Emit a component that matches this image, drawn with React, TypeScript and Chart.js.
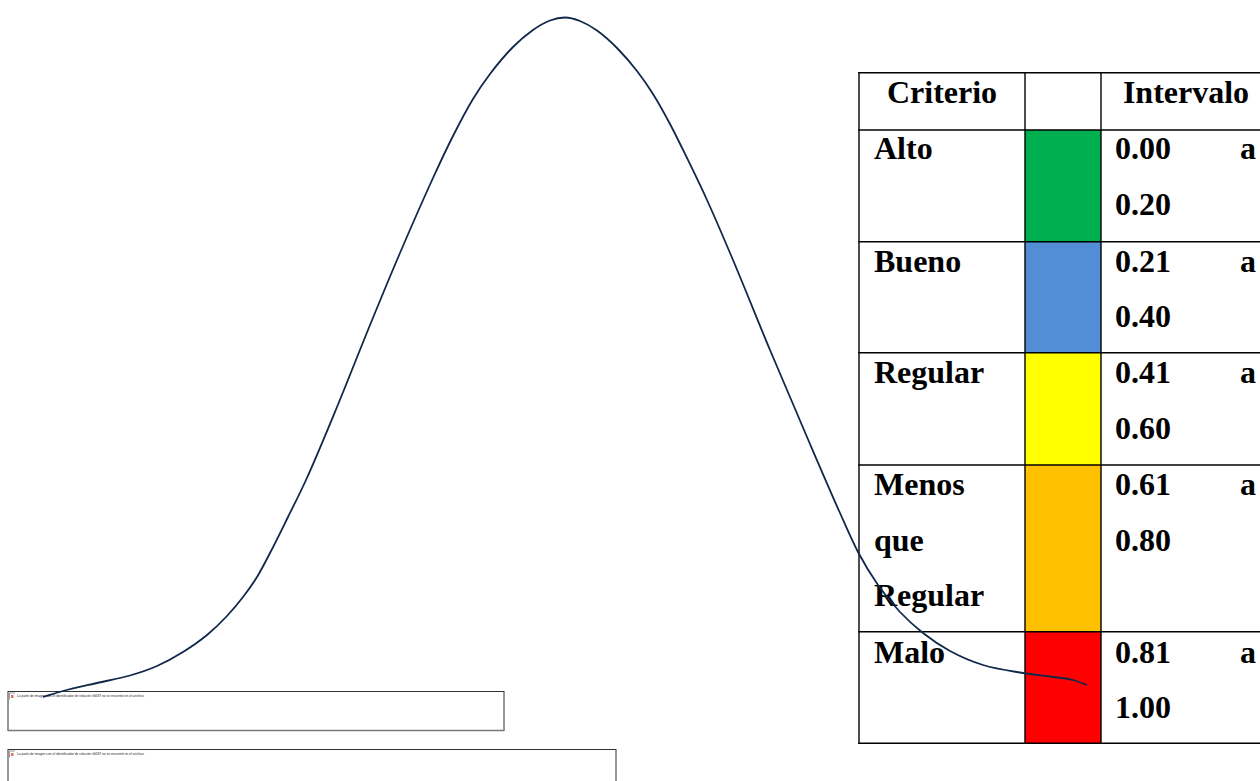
import React, { useEffect, useRef } from "react";
import { Chart, registerables } from "chart.js";

Chart.register(...registerables);

// Curve (x position across the page, height above the page's foot)
const curveX = [43, 63, 97, 130, 157, 183, 207, 227, 243, 257, 270, 288, 306, 337, 368, 397, 433, 453, 473, 490, 513, 533, 550, 565, 580, 597, 617, 637, 653, 670, 687, 707, 733, 770, 807, 840, 858, 878, 900, 923, 950, 983, 1023, 1053, 1073, 1087];
const curveY = [84, 90, 98, 105.5, 115, 129, 146, 165, 184, 204, 228, 264, 301, 374, 451, 521, 603, 645, 682, 707, 734, 751, 760.5, 763.5, 760, 750.5, 733, 710, 687, 657, 623, 581, 521, 431, 344, 268, 229, 196, 169, 148, 130, 116, 108, 104, 101, 96];

// Table contents
const criterioHeader = "Criterio";
const intervaloHeader = "Intervalo";
const criterios = [["Alto"], ["Bueno"], ["Regular"], ["Menos", "que", "Regular"], ["Malo"]];
const desde = ["0.00", "0.21", "0.41", "0.61", "0.81"];
const hasta = ["0.20", "0.40", "0.60", "0.80", "1.00"];
const colores = ["#00AF50", "#538DD5", "#FFFF00", "#FFC000", "#FF0000"];
const placeholderText = "La parte de imagen con el identificador de relación rId187 no se encontró en el archivo.";

// Layout of the page
const rowLines = [72.7, 130, 241.7, 352.8, 465, 631.7, 743.3];
const firstBaselines = [159, 271.5, 383, 495, 662.5];
const LINE = 55.5;
const colLines = [859, 1025, 1101];
const TABLE_RIGHT = 1271;
const placeholders = [
  { top: 691.5, height: 39, width: 496 },
  { top: 749.5, height: 60, width: 608 },
];

const serif: React.CSSProperties = {
  position: "absolute",
  fontFamily: '"Liberation Serif", serif',
  fontWeight: 700,
  fontSize: 32,
  lineHeight: "56px",
  height: 56,
  color: "#000",
  whiteSpace: "nowrap",
};

const at = (baseline: number): number => baseline - 39;

export default function App() {
  const ref = useRef<HTMLCanvasElement | null>(null);
  useEffect(() => {
    document.body.style.margin = "0";
    const chart = new Chart(ref.current!, {
      type: "line",
      data: {
        datasets: [
          {
            data: curveX.map((x, i) => ({ x, y: curveY[i] })),
            borderColor: "#10294A",
            borderWidth: 1.8,
            pointRadius: 0,
            cubicInterpolationMode: "monotone",
            fill: false,
          },
        ],
      },
      options: {
        animation: false,
        responsive: false,
        layout: { padding: 0 },
        plugins: { legend: { display: false }, tooltip: { enabled: false } },
        scales: {
          x: { type: "linear", min: 0, max: 1260, display: false },
          y: { type: "linear", min: 0, max: 781, display: false },
        },
      },
    });
    return () => chart.destroy();
  }, []);

  const W = 1.4;
  return (
    <div style={{ position: "relative", width: 1260, height: 781, overflow: "hidden", background: "#fff" }}>
      <svg width={1260} height={781} style={{ position: "absolute", left: 0, top: 0 }}>
        {placeholders.map((p, i) => (
          <g key={i}>
            <rect x={8} y={p.top} width={p.width} height={p.height} fill="none" stroke="#333" strokeWidth={1} />
            <line x1={8} x2={8 + p.width} y1={p.top + p.height} y2={p.top + p.height} stroke="#777" strokeWidth={1.6} />
            <path d={`M9.5 ${p.top + 8} V${p.top + 1.5} H15`} fill="none" stroke="#999" strokeWidth={1} />
            <rect x={11} y={p.top + 3.5} width={2.5} height={3} fill="#e8706a" />
          </g>
        ))}
        {colores.map((c, i) => (
          <rect key={c} x={colLines[1]} width={colLines[2] - colLines[1]} y={rowLines[i + 1]} height={rowLines[i + 2] - rowLines[i + 1]} fill={c} />
        ))}
        {rowLines.map((y) => (
          <line key={y} x1={colLines[0] - W / 2} x2={TABLE_RIGHT} y1={y} y2={y} stroke="#000" strokeWidth={W} />
        ))}
        {colLines.map((x) => (
          <line key={x} x1={x} x2={x} y1={rowLines[0] - W / 2} y2={rowLines[6] + W / 2} stroke="#000" strokeWidth={W} />
        ))}
      </svg>

      {placeholders.map((p, i) => (
        <div
          key={i}
          style={{
            position: "absolute",
            left: 17,
            top: p.top + 2,
            fontFamily: '"Liberation Sans", sans-serif',
            fontSize: 3.3,
            lineHeight: "5px",
            color: "#222",
            whiteSpace: "nowrap",
          }}
        >
          {placeholderText}
        </div>
      ))}

      <div style={{ ...serif, left: colLines[0], width: colLines[1] - colLines[0], textAlign: "center", top: at(103) }}>{criterioHeader}</div>
      <div style={{ ...serif, left: colLines[2], width: TABLE_RIGHT - colLines[2], textAlign: "center", top: at(103) }}>{intervaloHeader}</div>
      {criterios.map((lines, i) =>
        lines.map((t, j) => (
          <div key={`${i}-${j}`} style={{ ...serif, left: 874, top: at(firstBaselines[i] + j * LINE) }}>{t}</div>
        ))
      )}
      {desde.map((d, i) => (
        <React.Fragment key={d}>
          <div style={{ ...serif, left: 1115, top: at(firstBaselines[i]) }}>{d}</div>
          <div style={{ ...serif, left: 1240, top: at(firstBaselines[i]) }}>a</div>
          <div style={{ ...serif, left: 1115, top: at(firstBaselines[i] + LINE) }}>{hasta[i]}</div>
        </React.Fragment>
      ))}

      <canvas ref={ref} width={1260} height={781} style={{ position: "absolute", left: 0, top: 0, width: 1260, height: 781, pointerEvents: "none" }} />
    </div>
  );
}
